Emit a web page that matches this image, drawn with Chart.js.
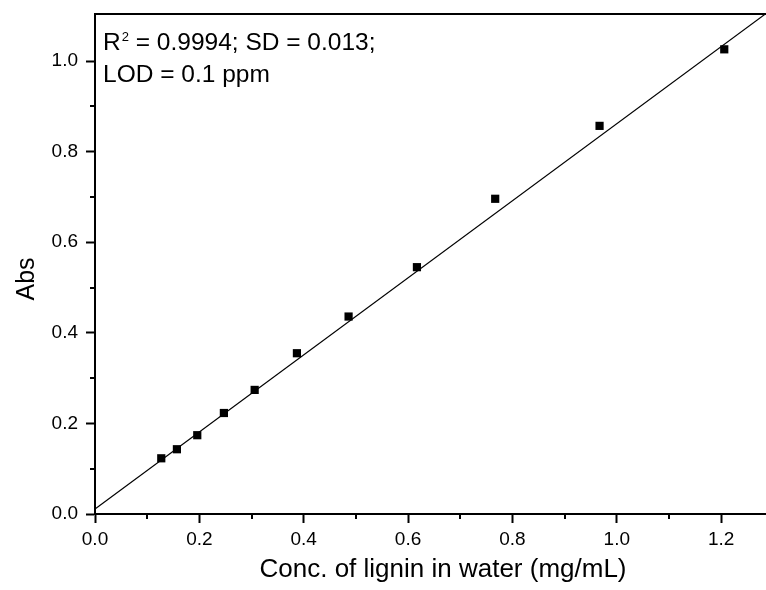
<!DOCTYPE html>
<html>
<head>
<meta charset="utf-8">
<title>Lignin calibration curve</title>
<script src="https://cdn.jsdelivr.net/npm/chart.js@4.4.1/dist/chart.umd.min.js"></script>
<style>
  html, body { margin: 0; padding: 0; background: #fff; }
  #chartBox { width: 766px; height: 590px; }
</style>
</head>
<body>
<div id="chartBox"><canvas id="calibrationChart" width="766" height="590"></canvas></div>
<script>
// measured points
const concentration = [0.127, 0.157, 0.196, 0.247, 0.306, 0.387, 0.486, 0.617, 0.767, 0.967, 1.206];
const absorbance = [0.123, 0.143, 0.174, 0.223, 0.274, 0.355, 0.436, 0.545, 0.696, 0.857, 1.026];

// linear fit, ends
const fitX = [0, 1.286];
const fitY = [0.011, 1.105];

// axis ticks
const xMajor = [0, 0.2, 0.4, 0.6, 0.8, 1.0, 1.2];
const xMinor = [0.1, 0.3, 0.5, 0.7, 0.9, 1.1];
const yMajor = [0, 0.2, 0.4, 0.6, 0.8, 1.0];
const yMinor = [0.1, 0.3, 0.5, 0.7, 0.9];

const xTitle = "Conc. of lignin in water (mg/mL)";
const yTitle = "Abs";
const noteLine1 = ["R", "2", " = 0.9994; SD = 0.013;"];
const noteLine2 = "LOD = 0.1 ppm";

const FONT = '"Liberation Sans", Arial, sans-serif';

// top frame, minor ticks, axis titles and the R2 note
const framePlugin = {
    id: 'frame',
    afterDraw(chart) {
        const ctx = chart.ctx;
        const area = chart.chartArea;
        const xScale = chart.scales.x;
        const yScale = chart.scales.y;

        ctx.save();
        ctx.strokeStyle = '#000';
        ctx.lineWidth = 2;
        ctx.beginPath();
        ctx.moveTo(area.left - 1, area.top);
        ctx.lineTo(area.right, area.top);
        ctx.stroke();

        ctx.beginPath();
        xMinor.forEach(v => {
            const px = Math.round(xScale.getPixelForValue(v));
            ctx.moveTo(px, area.bottom);
            ctx.lineTo(px, area.bottom + 5);
        });
        yMinor.forEach(v => {
            const py = Math.round(yScale.getPixelForValue(v));
            ctx.moveTo(area.left, py);
            ctx.lineTo(area.left - 5, py);
        });
        ctx.stroke();

        ctx.fillStyle = '#000';
        ctx.textBaseline = 'alphabetic';
        ctx.textAlign = 'center';
        ctx.font = '26px ' + FONT;
        ctx.fillText(xTitle, area.left + 348, 577);

        ctx.save();
        ctx.translate(33.5, 279);
        ctx.rotate(-Math.PI / 2);
        ctx.font = '25px ' + FONT;
        ctx.fillText(yTitle, 0, 0);
        ctx.restore();

        ctx.textAlign = 'left';
        let x = area.left + 8;
        ctx.font = '24.5px ' + FONT;
        ctx.fillText(noteLine1[0], x, 49.5);
        x += ctx.measureText(noteLine1[0]).width + 1;
        ctx.font = '13px ' + FONT;
        ctx.fillText(noteLine1[1], x, 40.5);
        x += ctx.measureText(noteLine1[1]).width;
        ctx.font = '24.5px ' + FONT;
        ctx.fillText(noteLine1[2], x, 49.5);
        ctx.fillText(noteLine2, area.left + 8, 81.5);
        ctx.restore();
    }
};

// drop the label overhang padding so the plot box sits where the picture has it
function fixScale(scale, size) {
    if (scale.isHorizontal()) {
        scale.height = size;
    } else {
        scale.width = size;
    }
    scale.paddingTop = 0;
    scale.paddingBottom = 0;
    scale.paddingLeft = 0;
    scale.paddingRight = 0;
}

const axisGrid = {
    drawOnChartArea: false,
    tickLength: 9,
    tickWidth: 2,
    tickColor: '#000',
    color: '#000'
};

const ctx = document.getElementById('calibrationChart').getContext('2d');

new Chart(ctx, {
    type: 'scatter',
    data: {
        datasets: [{
            data: concentration.map((c, i) => ({x: c, y: absorbance[i]})),
            pointStyle: 'rect',
            pointRadius: 5.8,
            backgroundColor: '#000',
            borderWidth: 0,
            showLine: false
        }, {
            data: fitX.map((c, i) => ({x: c, y: fitY[i]})),
            showLine: true,
            pointRadius: 0,
            borderColor: '#000',
            borderWidth: 1.2
        }]
    },
    options: {
        responsive: false,
        animation: false,
        layout: { autoPadding: false, padding: { left: 0, top: 14, right: 0, bottom: 0 } },
        plugins: {
            legend: { display: false },
            tooltip: { enabled: false }
        },
        scales: {
            x: {
                type: 'linear',
                min: 0,
                max: 1.286,
                afterBuildTicks: scale => { scale.ticks = xMajor.map(v => ({value: v})); },
                afterFit: scale => fixScale(scale, 76),
                grid: axisGrid,
                border: { display: true, width: 2, color: '#000' },
                ticks: {
                    autoSkip: false,
                    maxRotation: 0,
                    padding: 5,
                    color: '#000',
                    font: { family: FONT, size: 19 },
                    callback: v => v.toFixed(1)
                }
            },
            y: {
                type: 'linear',
                min: 0,
                max: 1.104,
                afterBuildTicks: scale => { scale.ticks = yMajor.map(v => ({value: v})); },
                afterFit: scale => fixScale(scale, 95),
                grid: axisGrid,
                border: { display: true, width: 2, color: '#000' },
                ticks: {
                    autoSkip: false,
                    padding: 8,
                    color: '#000',
                    font: { family: FONT, size: 19 },
                    callback: v => v.toFixed(1)
                }
            }
        }
    },
    plugins: [framePlugin]
});
</script>
</body>
</html>
